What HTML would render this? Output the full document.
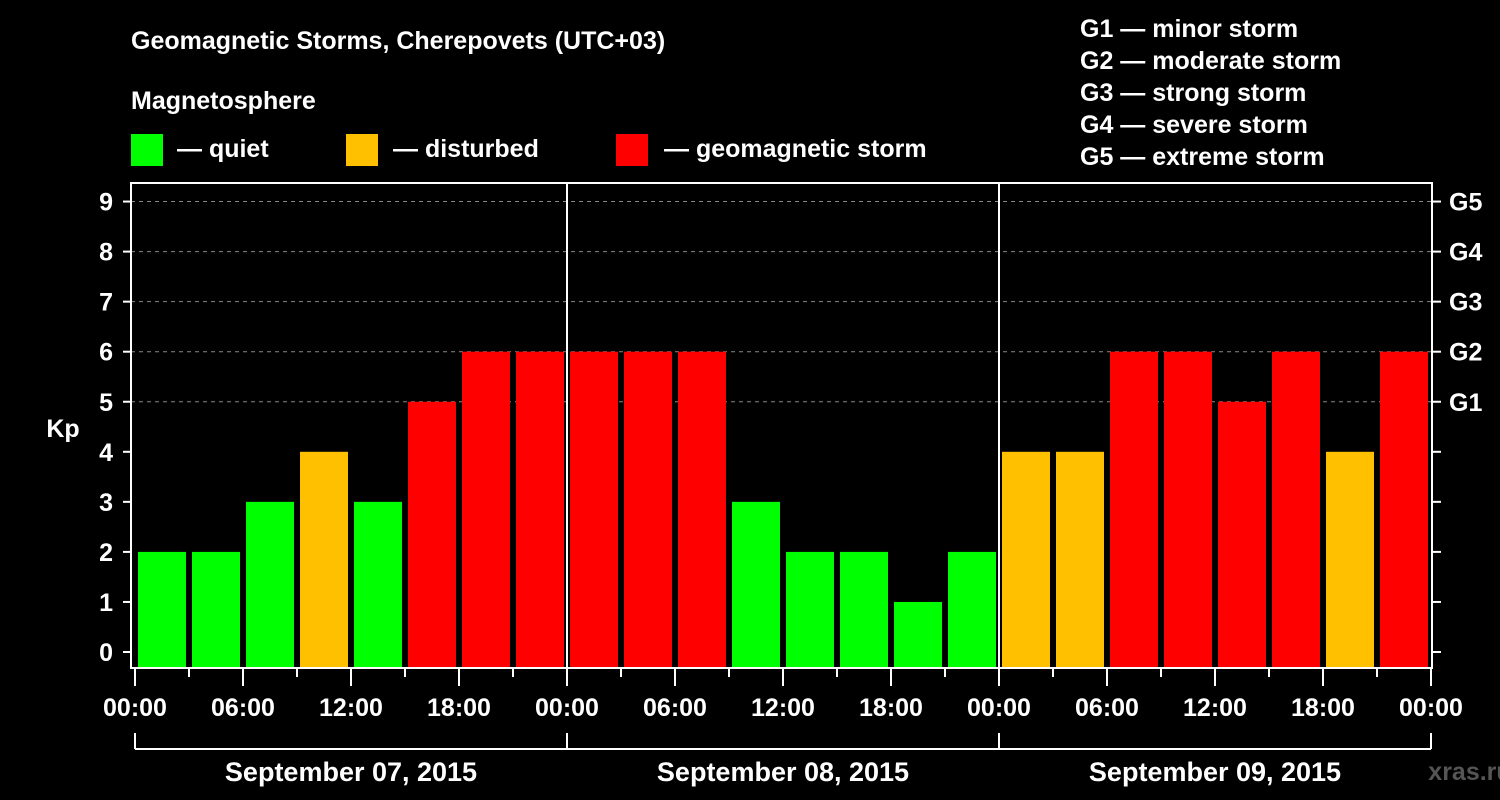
<!DOCTYPE html>
<html><head><meta charset="utf-8"><style>
html,body{margin:0;padding:0;background:#000;}
svg{display:block;font-family:"Liberation Sans",Arial,sans-serif;font-weight:bold;}
</style></head><body>
<svg id="chart" width="1500" height="800" viewBox="0 0 1500 800">
<rect x="0" y="0" width="1500" height="800" fill="#000"/>
<text x="131" y="49" fill="#fff" font-size="25">Geomagnetic Storms, Cherepovets (UTC+03)</text>
<text x="131" y="109" fill="#fff" font-size="25">Magnetosphere</text>
<g><rect x="131" y="134" width="32" height="32" fill="#00ff00"/><text x="177" y="157" fill="#fff" font-size="25">— quiet</text></g>
<g><rect x="346" y="134" width="32" height="32" fill="#ffc000"/><text x="393" y="157" fill="#fff" font-size="25">— disturbed</text></g>
<g><rect x="616" y="134" width="32" height="32" fill="#ff0000"/><text x="664" y="157" fill="#fff" font-size="25">— geomagnetic storm</text></g>
<g fill="#fff" font-size="25">
<text x="1080" y="37">G1 — minor storm</text>
<text x="1080" y="69">G2 — moderate storm</text>
<text x="1080" y="101">G3 — strong storm</text>
<text x="1080" y="133">G4 — severe storm</text>
<text x="1080" y="165">G5 — extreme storm</text>
</g>
<g id="grid"></g>
<g id="bars"></g>
<g id="axes"></g>
<text x="63" y="437" fill="#fff" font-size="25" text-anchor="middle">Kp</text>
<text x="1470" y="780" fill="#555" font-size="25" text-anchor="middle">xras.ru</text>
</svg>
<script>
const kpValues = [2,2,3,4,3,5,6,6, 6,6,6,3,2,2,1,2, 4,4,6,6,5,6,4,6];
const dayLabels = ["September 07, 2015","September 08, 2015","September 09, 2015"];
const hourLabels = ["00:00","06:00","12:00","18:00"];
const yTicks = [0,1,2,3,4,5,6,7,8,9];
const gLabels = ["G1","G2","G3","G4","G5"];

const NS="http://www.w3.org/2000/svg";
const L=131,R=1432,T=183,B=668,X0=135,DAY=432;
function xScale(h){return X0+h*DAY/24;}
function yScale(v){return 652-v*50.05;}
function mk(tag,attrs,parent){const e=document.createElementNS(NS,tag);for(const k in attrs)e.setAttribute(k,attrs[k]);parent.appendChild(e);return e;}
const grid=document.getElementById('grid'),bars=document.getElementById('bars'),axes=document.getElementById('axes');
// grid lines
yTicks.forEach(v=>{if(v<5)return;
 const l=mk('line',{x1:L,x2:R,y1:yScale(v),y2:yScale(v),stroke:'#888','stroke-dasharray':'4,4','stroke-width':1},grid);
 
 
});
// bars
kpValues.forEach((v,i)=>{
 const c=v>=5?'#ff0000':(v>=4?'#ffc000':'#00ff00');
 const x1=xScale(i*3)+3,x2=xScale(i*3+3)-3;
 const r=mk('rect',{x:x1,y:yScale(v),width:x2-x1,height:B-yScale(v),fill:c},bars);
 
 
});
// frame
const f=mk('rect',{x:L,y:T,width:R-L,height:B-T,fill:'none',stroke:'#fff','stroke-width':2},axes);


// day separators
for(let d=1;d<dayLabels.length;d++){
 const s=mk('line',{x1:xScale(d*24),x2:xScale(d*24),y1:T,y2:B,stroke:'#fff','stroke-width':2},axes);
 
 
}
// y ticks
yTicks.forEach(v=>{
 const y=yScale(v);
 mk('line',{x1:123,x2:L,y1:y,y2:y,stroke:'#fff','stroke-width':2},axes);
 mk('line',{x1:R,x2:R+9,y1:y,y2:y,stroke:'#fff','stroke-width':2},axes);
 const t=mk('text',{x:113,y:y+9,fill:'#fff','font-size':25,'text-anchor':'end'},axes);
 t.textContent=v;
 
 
});
gLabels.forEach((g,i)=>{
 const t=mk('text',{x:1449,y:yScale(i+5)+9,fill:'#fff','font-size':25},axes);
 t.textContent=g;
 
 
});
// x ticks
for(let h=0;h<=72;h+=3){
 const x=xScale(h);const major=h%6===0;
 mk('line',{x1:x,x2:x,y1:B,y2:B+(major?18:9),stroke:'#fff','stroke-width':2},axes);
 if(major){
  const t=mk('text',{x:x,y:716,fill:'#fff','font-size':25,'text-anchor':'middle'},axes);
  t.textContent=hourLabels[(h/6)%4];
  
  
 }
}
// date brackets
mk('line',{x1:xScale(0),x2:xScale(72),y1:749,y2:749,stroke:'#fff','stroke-width':2},axes);
for(let d=0;d<=dayLabels.length;d++){
 mk('line',{x1:xScale(d*24),x2:xScale(d*24),y1:733,y2:749,stroke:'#fff','stroke-width':2},axes);
}
dayLabels.forEach((s,d)=>{
 const t=mk('text',{x:xScale(d*24+12),y:781,fill:'#fff','font-size':27,'text-anchor':'middle'},axes);
 t.textContent=s;
 
 
});
</script>
</body></html>
